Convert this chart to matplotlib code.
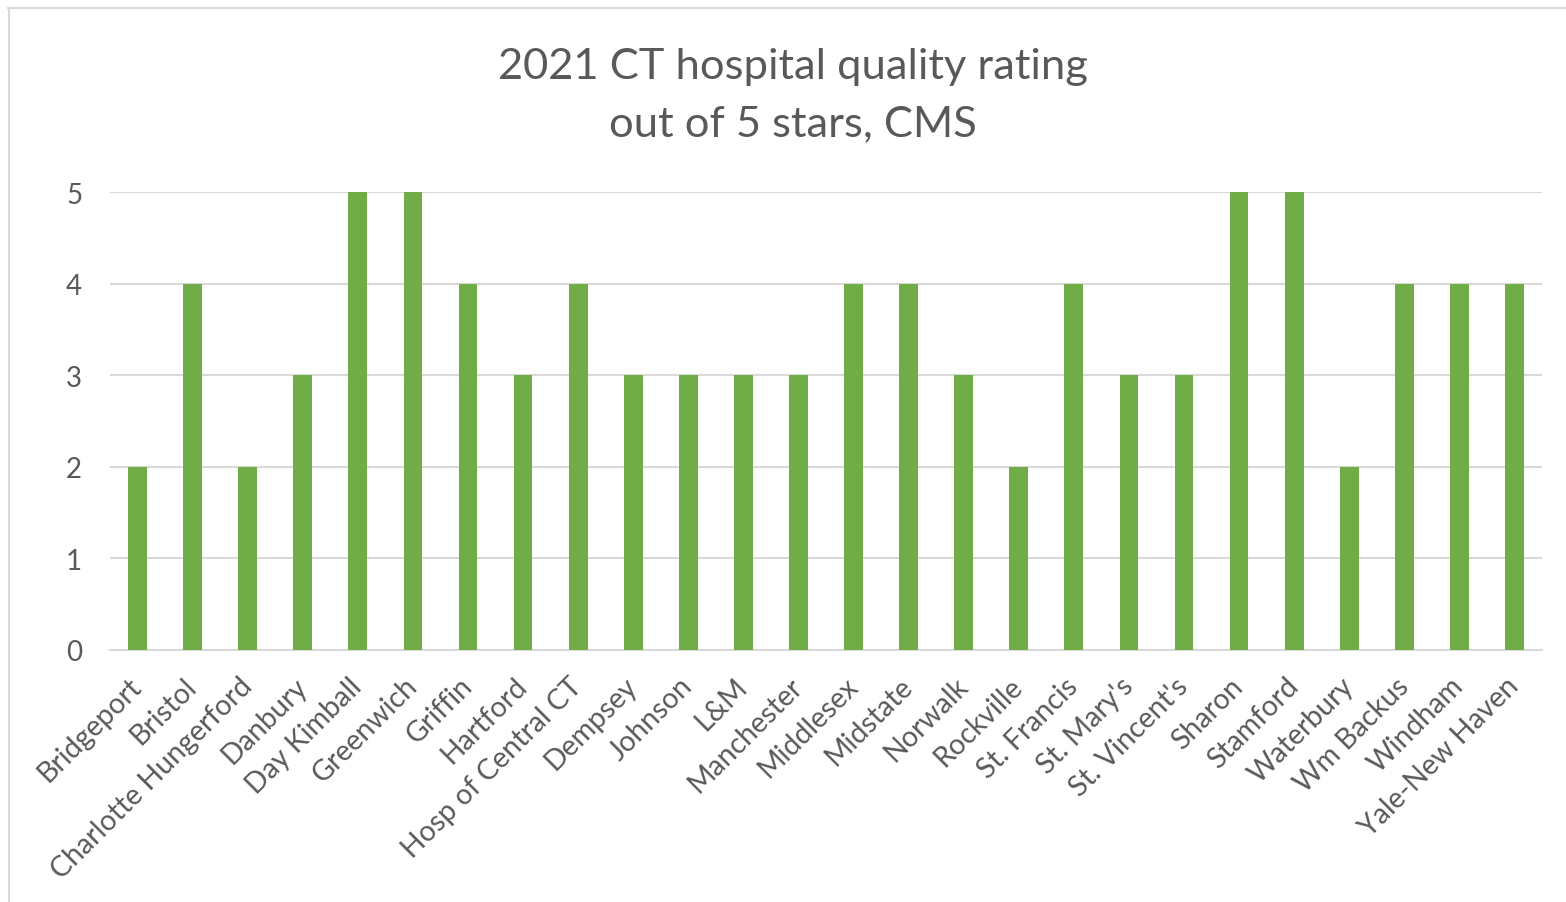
import matplotlib
matplotlib.use("Agg")
import matplotlib.pyplot as plt
from matplotlib.lines import Line2D
import matplotlib.transforms as mtransforms

hospitals = ["Bridgeport", "Bristol", "Charlotte Hungerford", "Danbury", "Day Kimball",
             "Greenwich", "Griffin", "Hartford", "Hosp of Central CT", "Dempsey",
             "Johnson", "L&M", "Manchester", "Middlesex", "Midstate", "Norwalk",
             "Rockville", "St. Francis", "St. Mary's", "St. Vincent's", "Sharon",
             "Stamford", "Waterbury", "Wm Backus", "Windham", "Yale-New Haven"]
ratings = [2, 4, 2, 3, 5, 5, 4, 3, 4, 3, 3, 3, 3, 4, 4, 3, 2, 4, 3, 3, 5, 5, 2, 4, 4, 4]
yticks = [0, 1, 2, 3, 4, 5]
title_lines = ["2021 CT hospital quality rating", "out of 5 stars, CMS"]

plt.rcParams['font.family'] = ['Lato', 'DejaVu Sans']
W, H = 1566, 903
fig = plt.figure(figsize=(W / 100, H / 100), dpi=100)
ax = fig.add_axes([110 / W, (H - 651) / H, (1542 - 110) / W, (651 - 193) / H])

x = list(range(len(hospitals)))
ax.bar(x, ratings, width=0.34, color="#70AD47", zorder=3)
ax.set_xlim(-0.5, len(hospitals) - 0.5)
ax.set_ylim(0, 5)
ax.set_yticks(yticks)
ax.set_yticklabels([str(v) for v in yticks])
ax.yaxis.grid(True, color="#d9d9d9", linewidth=1.5, zorder=0)
ax.set_axisbelow(True)
for s in ["top", "right", "left"]:
    ax.spines[s].set_visible(False)
ax.spines["bottom"].set_color("#d9d9d9")
ax.spines["bottom"].set_linewidth(1.5)
ax.tick_params(axis="y", length=0, pad=20, labelsize=20, labelcolor="#595959")
ax.tick_params(axis="x", length=0, pad=4, labelsize=20.5, labelcolor="#595959")
ax.set_xticks(x)
ax.set_xticklabels(hospitals, rotation=45, ha="right", va="center", rotation_mode="anchor")
offset = mtransforms.ScaledTranslation(0.0, -0.26, fig.dpi_scale_trans)
for lab in ax.get_xticklabels():
    lab.set_transform(lab.get_transform() + offset)

fig.text(793 / W, 1 - 67 / H, title_lines[0], ha="center", va="center", fontsize=31.3, color="#595959")
fig.text(793 / W, 1 - 124 / H, title_lines[1], ha="center", va="center", fontsize=31.3, color="#595959")

fig.add_artist(Line2D([8.5 / W, 8.5 / W], [0, 1 - 9 / H], transform=fig.transFigure, color="#d9d9d9", linewidth=1.5))
fig.add_artist(Line2D([8 / W, 1], [1 - 9 / H, 1 - 9 / H], transform=fig.transFigure, color="#d9d9d9", linewidth=1.5))

fig.savefig("out.png", dpi=100, facecolor="white")
